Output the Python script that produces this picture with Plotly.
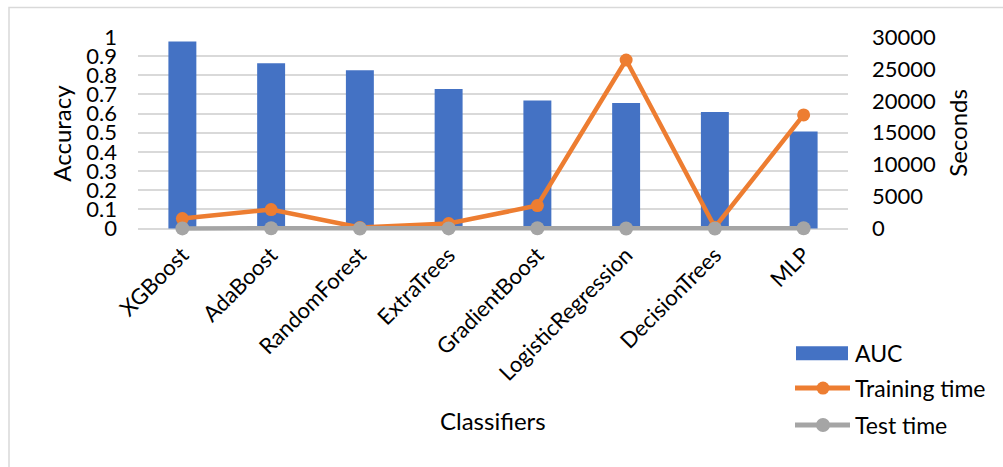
import plotly.graph_objects as go

categories = ["XGBoost", "AdaBoost", "RandomForest", "ExtraTrees", "GradientBoost",
              "LogisticRegression", "DecisionTrees", "MLP"]
auc = [0.976, 0.863, 0.826, 0.729, 0.668, 0.655, 0.608, 0.507]
training_time = [1560, 2970, 150, 780, 3600, 26400, 200, 17800]
test_time = [20, 30, 5, 15, 40, 10, 2, 50]
series_names = ["AUC", "Training time", "Test time"]

FONT = "Lato, 'Open Sans', sans-serif"
BLUE = "#4472C4"
ORANGE = "#ED7D31"
GRAY = "#A5A5A5"

W, H = 1003, 467
Y_ZERO_PX, Y_ONE_PX = 229, 37
UNIT = Y_ZERO_PX - Y_ONE_PX          # pixels per accuracy unit
PAD = 0.013                           # small room below zero so the lines are not clipped
L, R = 138, 155
T = Y_ONE_PX
B = H - (Y_ZERO_PX + PAD * UNIT)
PW, PH = W - L - R, H - T - B


def px2x(px):
    return (px - L) / PW


def px2y(py):
    return (H - B - py) / PH


fig = go.Figure()
fig.add_trace(go.Bar(x=categories, y=auc, name=series_names[0], marker_color=BLUE,
                     marker_line_width=0, yaxis="y", showlegend=False))
fig.add_trace(go.Scatter(x=categories, y=training_time, name=series_names[1],
                         mode="lines+markers", yaxis="y2", showlegend=False,
                         cliponaxis=False,
                         line=dict(color=ORANGE, width=4.5),
                         marker=dict(color=ORANGE, size=13)))
fig.add_trace(go.Scatter(x=categories, y=test_time, name=series_names[2],
                         mode="lines+markers", yaxis="y2", showlegend=False,
                         cliponaxis=False,
                         line=dict(color=GRAY, width=4.5),
                         marker=dict(color=GRAY, size=14)))

# manual legend (wide symbols like the reference)
leg_rows = [354, 389, 426]
shapes = [
    dict(type="rect", xref="paper", yref="paper",
         x0=px2x(9), x1=px2x(1100), y0=px2y(600), y1=px2y(7.5),
         line=dict(color="#D9D9D9", width=1.5), fillcolor="rgba(0,0,0,0)",
         layer="below"),
    dict(type="rect", xref="paper", yref="paper",
         x0=px2x(796), x1=px2x(848), y0=px2y(leg_rows[0] + 7), y1=px2y(leg_rows[0] - 7),
         line=dict(width=0), fillcolor=BLUE),
]
for row, col, size in [(leg_rows[1], ORANGE, 13), (leg_rows[2], GRAY, 14)]:
    shapes.append(dict(type="line", xref="paper", yref="paper",
                       x0=px2x(795), x1=px2x(850), y0=px2y(row), y1=px2y(row),
                       line=dict(color=col, width=5)))
    shapes.append(dict(type="circle", xref="paper", yref="paper",
                       xsizemode="pixel", ysizemode="pixel",
                       xanchor=px2x(823), yanchor=px2y(row),
                       x0=-size / 2, x1=size / 2, y0=-size / 2, y1=size / 2,
                       line=dict(width=0), fillcolor=col))

annotations = [
    dict(text="Accuracy", xref="paper", yref="paper", x=px2x(62), y=px2y(134),
         xanchor="center", yanchor="middle",
         showarrow=False, textangle=-90, font=dict(size=24)),
    dict(text="Seconds", xref="paper", yref="paper", x=px2x(958), y=px2y(133),
         xanchor="center", yanchor="middle",
         showarrow=False, textangle=-90, font=dict(size=24)),
    dict(text="Classifiers", xref="paper", yref="paper", x=px2x(493), y=px2y(421),
         xanchor="center", yanchor="middle",
         showarrow=False, font=dict(size=24)),
]
for name, row in zip(series_names, leg_rows):
    annotations.append(dict(text=name, xref="paper", yref="paper",
                            x=px2x(853), y=px2y(row), xanchor="left", yanchor="middle",
                            showarrow=False, font=dict(size=23)))

fig.update_layout(
    width=W, height=H,
    margin=dict(l=L, r=R, t=T, b=B, autoexpand=False),
    paper_bgcolor="white", plot_bgcolor="white",
    font=dict(family=FONT, color="#000000", size=22),
    bargap=0.685,
    showlegend=False,
    xaxis=dict(range=[-0.5, 7.5], tickangle=-45, tickfont=dict(size=22),
               showgrid=False, showline=False, zeroline=False, automargin=False,
               ticks="", ticklabelstandoff=6),
    yaxis=dict(range=[-PAD, 1], tickvals=[i / 10 for i in range(11)],
               ticktext=["0", "0.1", "0.2", "0.3", "0.4", "0.5", "0.6", "0.7", "0.8", "0.9", "1"],
               showgrid=True, gridcolor="#D9D9D9",
               gridwidth=1.5, zeroline=False, showline=False, automargin=False,
               tickfont=dict(size=22), ticklabelstandoff=20),
    yaxis2=dict(range=[-PAD * 30000, 30000], tickvals=[0, 5000, 10000, 15000, 20000, 25000, 30000],
                tickformat="d", overlaying="y", side="right",
                showgrid=False, zeroline=False, showline=False, automargin=False,
                tickfont=dict(size=22), ticklabelstandoff=23),
    annotations=annotations,
    shapes=shapes,
)

fig.write_html("out.html")
